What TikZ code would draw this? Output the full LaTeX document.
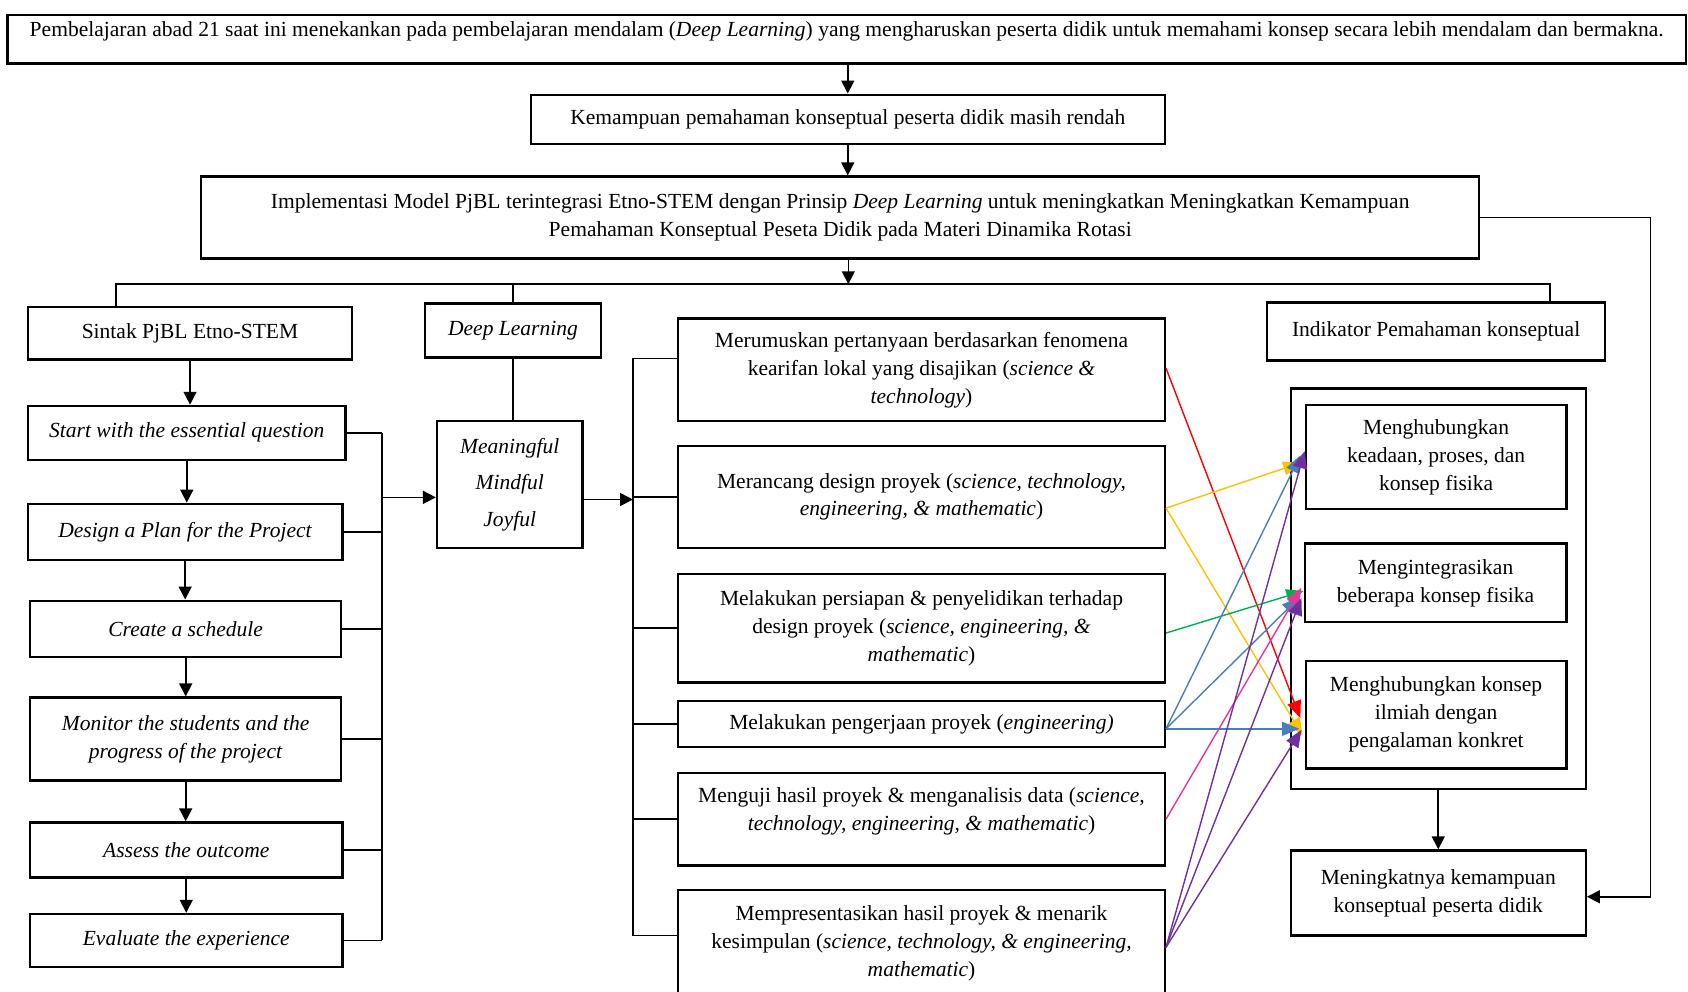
\documentclass[tikz,border=0pt]{standalone}
\usepackage{fontspec}
\setmainfont{Liberation Serif}
\usetikzlibrary{arrows.meta}
\definecolor{cred}{HTML}{FF0000}
\definecolor{cyel}{HTML}{FFC000}
\definecolor{cgrn}{HTML}{00B050}
\definecolor{cblu}{HTML}{4A7EBB}
\definecolor{cpnk}{HTML}{E8359A}
\definecolor{cpur}{HTML}{7030A0}
\begin{document}
\begin{tikzpicture}[x=0.5pt,y=-0.5pt,
  box/.style={draw, line width=1.1pt, inner sep=0pt, align=center, font=\fontsize{10}{13}\selectfont},
  conn/.style={line width=0.75pt},
  arr/.style={conn, -{Triangle[length=6pt,width=6pt]}},
  carr/.style={line width=0.65pt, -{Triangle[length=8pt,width=6.5pt]}}]
\useasboundingbox (0,0) rectangle (1568,921);
\clip (0,0) rectangle (1568,921);

% top chain
\node[box, minimum width=779.5pt, minimum height=22.5pt, text height=10pt, text depth=12.5pt] (T) at (786.5,36.5)
  {Pembelajaran abad 21 saat ini menekankan pada pembelajaran mendalam (\textit{Deep Learning}) yang mengharuskan peserta didik untuk memahami konsep secara lebih mendalam dan bermakna.};
\node[box, minimum width=294.5pt, minimum height=23pt] (K) at (787.5,111)
  {Kemampuan pemahaman konseptual peserta didik masih rendah};
\node[box, minimum width=593.5pt, minimum height=38pt] (I) at (780.5,202)
  {Implementasi Model PjBL terintegrasi Etno-STEM dengan Prinsip \textit{Deep Learning} untuk meningkatkan Meningkatkan Kemampuan\\
   Pemahaman Konseptual Peseta Didik pada Materi Dinamika Rotasi};

% headers
\node[box, minimum width=150.5pt, minimum height=24.5pt] (s0) at (176.5,309.5) {Sintak PjBL Etno-STEM};
\node[box, minimum width=81.5pt, minimum height=25pt] (DL) at (476.5,307) {\textit{Deep Learning}};
\node[box, minimum width=157pt, minimum height=27pt] (Ind) at (1334,308) {Indikator Pemahaman konseptual};

% syntax column
\node[box, minimum width=147.5pt, minimum height=25pt] (s1) at (173.5,402) {\textit{Start with the essential question}};
\node[box, minimum width=146pt, minimum height=26pt] (s2) at (172,494) {\textit{Design a Plan for the Project}};
\node[box, minimum width=144.5pt, minimum height=26pt] (s3) at (172.5,584) {\textit{Create a schedule}};
\node[box, minimum width=144.5pt, minimum height=38.5pt] (s4) at (172.5,686.5) {\textit{Monitor the students and the}\\\textit{progress of the project}};
\node[box, minimum width=145pt, minimum height=25.5pt] (s5) at (173,789.5) {\textit{Assess the outcome}};
\node[box, minimum width=145pt, minimum height=24.5pt] (s6) at (173,873.5) {\textit{Evaluate the experience}};

% deep learning principles
\node[box, minimum width=67.5pt, minimum height=59pt] (ml) at (473.5,450)
  {\textit{Meaningful}\\[4pt]\textit{Mindful}\\[4pt]\textit{Joyful}};

% middle column
\node[box, minimum width=226pt, minimum height=47.5pt] (m1) at (856,343.5)
  {Merumuskan pertanyaan berdasarkan fenomena\\kearifan lokal yang disajikan (\textit{science \&}\\\textit{technology})};
\node[box, minimum width=226pt, minimum height=47.5pt] (m2) at (856,461.5)
  {Merancang design proyek (\textit{science, technology,}\\\textit{engineering, \& mathematic})};
\node[box, minimum width=226pt, minimum height=50.5pt] (m3) at (856,583.5)
  {Melakukan persiapan \& penyelidikan terhadap\\design proyek (\textit{science, engineering, \&}\\\textit{mathematic})};
\node[box, minimum width=226pt, minimum height=21.5pt] (m4) at (856,672.5)
  {Melakukan pengerjaan proyek (\textit{engineering)}};
\node[box, minimum width=226pt, minimum height=43pt] (m5) at (856,761)
  {Menguji hasil proyek \& menganalisis data (\textit{science,}\\\textit{technology, engineering, \& mathematic})\\[-7pt]\strut};
\node[box, minimum width=226pt, minimum height=49pt] (m6) at (856,876)
  {Mempresentasikan hasil proyek \& menarik\\kesimpulan (\textit{science, technology, \& engineering,}\\\textit{mathematic})};

% right column
\node[box, minimum width=137pt, minimum height=186pt] (cont) at (1336,547) {};
\node[box, minimum width=121pt, minimum height=48.5pt] (A) at (1334,424.5)
  {Menghubungkan\\keadaan, proses, dan\\konsep fisika};
\node[box, minimum width=121.5pt, minimum height=36.5pt] (B) at (1333.5,541.5)
  {Mengintegrasikan\\beberapa konsep fisika};
\node[box, minimum width=121pt, minimum height=50pt] (C) at (1334,664)
  {Menghubungkan konsep\\ilmiah dengan\\pengalaman konkret};
\node[box, minimum width=137pt, minimum height=39.5pt] (men) at (1336,829.5)
  {Meningkatnya kemampuan\\konseptual peserta didik};

% top arrows
\draw[arr] (K.north |- T.south) -- (K.north);
\draw[arr] (K.south) -- (K.south |- I.north);
\coordinate (hl) at (788,264);
\coordinate (hL) at (108,264);
\coordinate (hR) at (1440,264);
\draw[arr] (hl |- I.south) -- (hl);
\draw[conn] (hL |- s0.north) -- (hL) -- (hR) -- (hR |- Ind.north);
\draw[conn] (DL.north |- hL) -- (DL.north);

% right loop
\coordinate (rl1) at (1533,202);
\coordinate (rl2) at (1533,833);
\draw[arr] (I.east) -- (I.east -| rl1) -- (rl2) -- (rl2 -| men.east);
\draw[arr] (cont.south) -- (men.north);

% syntax arrows
\draw[arr] (s0.south) -- (s0.south |- s1.north);
\draw[arr] (s1.south) -- (s1.south |- s2.north);
\draw[arr] (s2.south) -- (s2.south |- s3.north);
\draw[arr] (s3.south) -- (s3.south |- s4.north);
\draw[arr] (s4.south) -- (s4.south |- s5.north);
\draw[arr] (s5.south) -- (s5.south |- s6.north);

% left bracket
\coordinate (lb) at (355,0);
\foreach \n in {s1,s2,s3,s4,s5,s6} \draw[conn] (\n.east) -- (\n.east -| lb);
\draw[conn] (s1.east -| lb) -- (s6.east -| lb);
\coordinate (lbm) at (355,462);
\draw[arr] (lbm) -- (lbm -| ml.west);
\draw[conn] (DL.south) -- (DL.south |- ml.north);

% middle bracket
\coordinate (mbm) at (588,464);
\draw[arr] (mbm -| ml.east) -- (mbm);
\coordinate (mt) at (588,333);
\coordinate (mbot) at (588,869);
\coordinate (mb) at (588,0);
\draw[conn] (mt -| m1.west) -- (mt) -- (mbot) -- (mbot -| m6.west);
\foreach \n in {m2,m3,m4,m5} \draw[conn] (\n.west -| mb) -- (\n.west);

% coloured links
\draw[carr, cred] ([yshift=0.75pt]m1.east) -- ([xshift=-2pt,yshift=-1.5pt]C.west);
\draw[carr, cyel] ([yshift=-5.25pt]m2.east) -- ([xshift=-2pt,yshift=-2.75pt]A.west);
\draw[carr, cyel] ([yshift=-5.25pt]m2.east) -- ([xshift=-1pt,yshift=-9.5pt]C.west);
\draw[carr, cgrn] ([yshift=-2.25pt]m3.east) -- ([yshift=-3.75pt]B.west);
\draw[carr, cblu] ([yshift=-2.25pt]m4.east) -- ([xshift=-2pt,yshift=0.75pt]A.west);
\draw[carr, cblu] ([yshift=-2.25pt]m4.east) -- ([xshift=-2pt,yshift=-6.75pt]B.west);
\draw[carr, cblu] ([yshift=-2.25pt]m4.east) -- ([xshift=-2.5pt,yshift=-6.5pt]C.west);
\draw[carr, cpnk] (m5.east) -- ([xshift=-1pt,yshift=-2.25pt]B.west);
\draw[carr, cpur] ([yshift=-2pt]m6.east) -- ([xshift=0pt,yshift=2.75pt]A.west);
\draw[carr, cpur] ([yshift=-2pt]m6.east) -- ([xshift=-1pt,yshift=-7pt]B.west);
\draw[carr, cpur] ([yshift=-2pt]m6.east) -- ([xshift=-1.5pt,yshift=-7pt]C.west);
\end{tikzpicture}
\end{document}
